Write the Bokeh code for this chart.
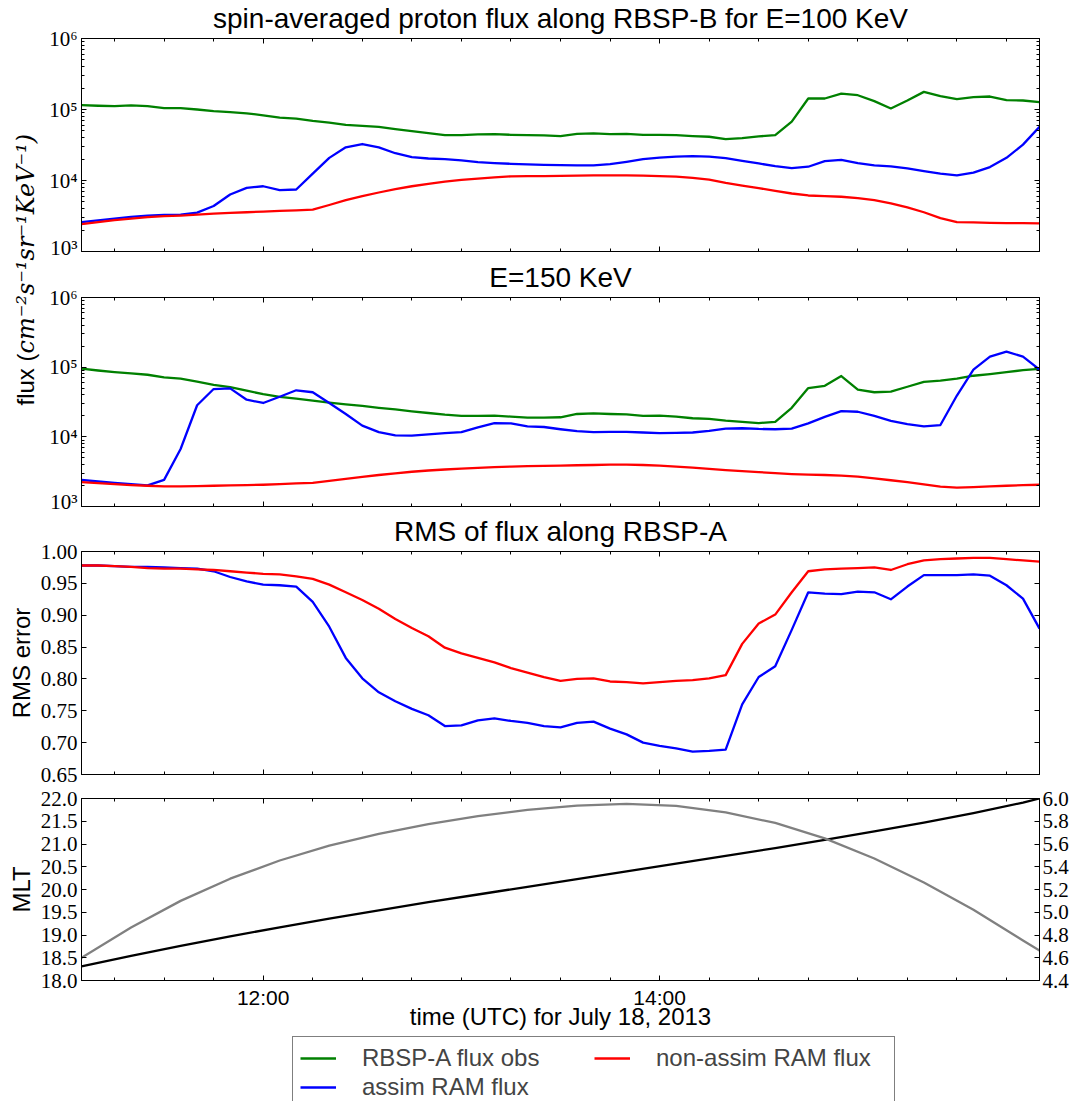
import numpy as np
import pandas as pd
from bokeh.plotting import figure
from bokeh.models import (Range1d, LinearAxis, LogAxis, DatetimeAxis, FixedTicker,
                          DatetimeTickFormatter, PrintfTickFormatter, Label, Legend, Title,
                          LegendItem, ColumnDataSource, CustomLabelingPolicy)
from bokeh.layouts import column, row
from bokeh.embed import file_html
from bokeh.resources import INLINE

# ---------------------------------------------------------------- data
DAY = "2013-07-18"
# 5-minute cadence of the flux / RMS series
times = pd.date_range(f"{DAY} 11:05", f"{DAY} 15:55", freq="5min")
# orbit (MLT / L) samples
orbit_clock = ["11:05", "11:20", "11:35", "11:50", "12:05", "12:20", "12:35", "12:50",
               "13:05", "13:20", "13:35", "13:50", "14:05", "14:20", "14:35", "14:50",
               "15:05", "15:20", "15:35", "15:50", "15:55"]
orbit_times = pd.to_datetime([f"{DAY} {c}" for c in orbit_clock])

# log10 of flux (cm^-2 s^-1 sr^-1 keV^-1), E = 100 keV
obs100_log10 = [5.062, 5.053, 5.048, 5.057, 5.048, 5.020, 5.020, 5.000, 4.978, 4.964,
                4.946, 4.918, 4.885, 4.872, 4.839, 4.816, 4.783, 4.769, 4.755, 4.723,
                4.695, 4.667, 4.639, 4.639, 4.649, 4.653, 4.644, 4.639, 4.635, 4.625,
                4.658, 4.663, 4.653, 4.658, 4.644, 4.644, 4.639, 4.625, 4.616, 4.584,
                4.597, 4.621, 4.639, 4.830, 5.155, 5.155, 5.224, 5.201, 5.118, 5.015,
                5.127, 5.248, 5.187, 5.145, 5.173, 5.183, 5.132, 5.127, 5.104]
assim100_log10 = [3.413, 3.437, 3.464, 3.488, 3.506, 3.515, 3.520, 3.548, 3.641, 3.803,
                  3.896, 3.919, 3.864, 3.873, 4.096, 4.319, 4.467, 4.514, 4.467, 4.384,
                  4.328, 4.310, 4.300, 4.282, 4.259, 4.245, 4.235, 4.226, 4.221, 4.217,
                  4.212, 4.212, 4.231, 4.263, 4.300, 4.323, 4.337, 4.342, 4.337, 4.314,
                  4.277, 4.240, 4.203, 4.175, 4.194, 4.272, 4.291, 4.245, 4.212, 4.198,
                  4.170, 4.133, 4.096, 4.073, 4.110, 4.189, 4.319, 4.505, 4.755]
nonassim100_log10 = [3.385, 3.413, 3.441, 3.464, 3.483, 3.497, 3.506, 3.520, 3.534, 3.543,
                     3.553, 3.562, 3.571, 3.580, 3.590, 3.655, 3.724, 3.780, 3.831, 3.878,
                     3.919, 3.952, 3.984, 4.008, 4.026, 4.045, 4.059, 4.063, 4.063, 4.066,
                     4.068, 4.073, 4.073, 4.073, 4.068, 4.063, 4.054, 4.036, 4.013, 3.966,
                     3.929, 3.892, 3.855, 3.817, 3.789, 3.780, 3.771, 3.752, 3.724, 3.678,
                     3.622, 3.553, 3.469, 3.413, 3.409, 3.404, 3.399, 3.399, 3.395]

# log10 of flux, E = 150 keV
obs150_log10 = [4.980, 4.952, 4.929, 4.910, 4.891, 4.854, 4.835, 4.793, 4.747, 4.714,
                4.663, 4.612, 4.575, 4.547, 4.519, 4.491, 4.467, 4.444, 4.416, 4.393,
                4.365, 4.342, 4.318, 4.300, 4.300, 4.304, 4.290, 4.276, 4.276, 4.281,
                4.328, 4.337, 4.328, 4.323, 4.300, 4.304, 4.290, 4.267, 4.258, 4.234,
                4.216, 4.197, 4.216, 4.416, 4.700, 4.733, 4.873, 4.677, 4.640, 4.649,
                4.719, 4.789, 4.807, 4.835, 4.877, 4.901, 4.929, 4.957, 4.975]
assim150_log10 = [3.382, 3.359, 3.340, 3.321, 3.303, 3.382, 3.825, 4.453, 4.686, 4.696,
                  4.533, 4.486, 4.575, 4.668, 4.640, 4.486, 4.328, 4.160, 4.067, 4.020,
                  4.016, 4.034, 4.053, 4.067, 4.137, 4.197, 4.193, 4.151, 4.141, 4.109,
                  4.081, 4.067, 4.071, 4.071, 4.062, 4.053, 4.057, 4.062, 4.085, 4.118,
                  4.123, 4.113, 4.109, 4.118, 4.193, 4.286, 4.370, 4.360, 4.300, 4.230,
                  4.183, 4.151, 4.169, 4.593, 4.966, 5.152, 5.222, 5.152, 4.966]
nonassim150_log10 = [3.349, 3.335, 3.321, 3.307, 3.298, 3.289, 3.289, 3.293, 3.298, 3.303,
                     3.307, 3.312, 3.321, 3.331, 3.340, 3.368, 3.396, 3.424, 3.452, 3.475,
                     3.499, 3.517, 3.531, 3.545, 3.554, 3.564, 3.573, 3.580, 3.584, 3.587,
                     3.592, 3.596, 3.601, 3.601, 3.596, 3.587, 3.573, 3.559, 3.540, 3.522,
                     3.508, 3.494, 3.480, 3.466, 3.457, 3.452, 3.443, 3.429, 3.405, 3.377,
                     3.349, 3.317, 3.284, 3.270, 3.279, 3.289, 3.298, 3.307, 3.312]

# RMS error along RBSP-A
rms_nonassim = [0.978, 0.978, 0.977, 0.976, 0.974, 0.973, 0.973, 0.972, 0.971, 0.969,
                0.967, 0.965, 0.964, 0.961, 0.957, 0.948, 0.936, 0.924, 0.910, 0.894,
                0.880, 0.867, 0.849, 0.840, 0.833, 0.826, 0.817, 0.810, 0.803, 0.797,
                0.800, 0.801, 0.796, 0.795, 0.793, 0.795, 0.797, 0.798, 0.801, 0.806,
                0.855, 0.887, 0.901, 0.936, 0.969, 0.972, 0.973, 0.974, 0.975, 0.971,
                0.980, 0.986, 0.988, 0.989, 0.990, 0.990, 0.988, 0.986, 0.984]
rms_assim = [0.978, 0.978, 0.977, 0.976, 0.976, 0.975, 0.974, 0.973, 0.969, 0.960,
             0.953, 0.948, 0.947, 0.945, 0.921, 0.882, 0.833, 0.801, 0.779, 0.765,
             0.753, 0.743, 0.726, 0.727, 0.735, 0.738, 0.734, 0.731, 0.726, 0.724,
             0.731, 0.733, 0.722, 0.713, 0.700, 0.695, 0.691, 0.686, 0.687, 0.689,
             0.760, 0.803, 0.820, 0.877, 0.936, 0.934, 0.933, 0.937, 0.936, 0.925,
             0.945, 0.963, 0.963, 0.963, 0.964, 0.962, 0.947, 0.926, 0.879]

# orbit: MLT (left axis) and L (right axis)
mlt = [18.31, 18.54, 18.76, 18.97, 19.17, 19.36, 19.54, 19.72, 19.89, 20.06, 20.23,
       20.40, 20.57, 20.74, 20.91, 21.09, 21.28, 21.47, 21.68, 21.91, 22.00]
lshell = [4.600, 4.865, 5.100, 5.295, 5.455, 5.585, 5.690, 5.775, 5.845, 5.900, 5.938,
          5.952, 5.935, 5.878, 5.785, 5.650, 5.472, 5.262, 5.022, 4.752, 4.663]

# ticks and labels
x_major_clock = ["12:00", "14:00"]
flux_ticks = [1000, 10000, 100000, 1000000]
flux_tick_labels = ["10³", "10⁴", "10⁵", "10⁶"]
rms_ticks = [0.65, 0.70, 0.75, 0.80, 0.85, 0.90, 0.95, 1.00]
mlt_ticks = [18.0, 18.5, 19.0, 19.5, 20.0, 20.5, 21.0, 21.5, 22.0]
l_ticks = [4.4, 4.6, 4.8, 5.0, 5.2, 5.4, 5.6, 5.8, 6.0]

series_labels = ["RBSP-A flux obs", "assim RAM flux", "non-assim RAM flux"]
GREEN, BLUE, RED, GRAY, BLACK = "#008000", "#0000ff", "#ff0000", "#808080", "#000000"

# ---------------------------------------------------------------- helpers
SERIF, SANS = "Liberation Serif", "Liberation Sans"
TICK_PX, LABEL_PX, TITLE_PX = "21px", "24px", "28px"
LW = 2.3
W = 1080            # page content width
LAB_W = 42          # width of the shared flux-label strip
B_LEFT, B_RIGHT = 81, 41


def ms(ts):
    return float((pd.Timestamp(ts) - pd.Timestamp("1970-01-01")) / pd.Timedelta(milliseconds=1))


x_start, x_end = times[0], times[-1]
x_major = [ms(f"{DAY} {c}") for c in x_major_clock]
x_minor = [ms(t) for t in pd.date_range(f"{DAY} 11:15", f"{DAY} 15:45", freq="15min")]
flux_minor = [m * t for t in flux_ticks[:-1] for m in range(2, 10)]


def xticker():
    return FixedTicker(ticks=x_major, minor_ticks=x_minor)


def style(ax, labels=True, font=SERIF, size=TICK_PX, standoff=4):
    ax.axis_line_color = "black"
    ax.axis_line_width = 1
    ax.major_tick_line_color = "black"
    ax.minor_tick_line_color = "black"
    ax.major_tick_in = 5
    ax.major_tick_out = 0
    ax.minor_tick_in = 3
    ax.minor_tick_out = 0
    ax.axis_label_text_color = "black"
    if labels:
        ax.major_label_text_font = font
        ax.major_label_text_font_size = size
        ax.major_label_text_color = "black"
        ax.major_label_standoff = standoff
    else:
        # ticks only: no label is drawn
        ax.major_label_text_font_size = "1px"
        ax.major_label_standoff = 0
        ax.axis_label_standoff = 0
        ax.major_label_policy = CustomLabelingPolicy(code="return new Set()")


def base_fig(width, height, left, top, bottom, y_type, y_range, title=None):
    p = figure(width=width, height=height, x_axis_type="datetime", y_axis_type=y_type,
               x_range=Range1d(x_start, x_end), y_range=y_range, title=None,
               toolbar_location=None, output_backend="svg",
               min_border_left=left, min_border_right=B_RIGHT,
               min_border_top=top, min_border_bottom=bottom)
    p.xgrid.visible = False
    p.ygrid.visible = False
    p.outline_line_color = "black"
    p.background_fill_color = "white"
    p.border_fill_color = "white"
    bottom_ax = p.below[0]
    bottom_ax.ticker = xticker()
    bottom_ax.formatter = DatetimeTickFormatter(hours="%H:%M", hourmin="%H:%M", minutes="%H:%M",
                                                minsec="%H:%M", days="%H:%M")
    left_ax = p.left[0]
    top_ax = DatetimeAxis(ticker=xticker())
    style(top_ax, labels=False)
    p.add_layout(top_ax, "above")
    if title is not None:
        p.add_layout(Title(text=title, align="center", text_font=SANS, text_font_size=TITLE_PX,
                           text_font_style="normal", text_color="black", standoff=0, offset=0),
                     "above")
    return p, bottom_ax, left_ax


def axis_title(ax, text, standoff):
    ax.axis_label = text
    ax.axis_label_text_font = SANS
    ax.axis_label_text_font_size = LABEL_PX
    ax.axis_label_text_font_style = "normal"
    ax.axis_label_text_color = "black"
    ax.axis_label_standoff = standoff


def flux_panel(height, top, bottom, obs, assim, nonassim, title):
    p, bx, ya = base_fig(W - LAB_W, height, B_LEFT - LAB_W, top, bottom, "log",
                         Range1d(1e3, 1e6), title)
    style(bx, labels=False)
    ya.ticker = FixedTicker(ticks=flux_ticks, minor_ticks=flux_minor)
    ya.major_label_overrides = dict(zip(flux_ticks, flux_tick_labels))
    style(ya, labels=True, standoff=4)
    ra = LogAxis(ticker=FixedTicker(ticks=flux_ticks, minor_ticks=flux_minor))
    style(ra, labels=False)
    p.add_layout(ra, "right")
    src = ColumnDataSource(dict(t=times, obs=10 ** np.array(obs), assim=10 ** np.array(assim),
                                non=10 ** np.array(nonassim)))
    p.line("t", "obs", source=src, color=GREEN, line_width=LW, line_join="round")
    p.line("t", "assim", source=src, color=BLUE, line_width=LW, line_join="round")
    p.line("t", "non", source=src, color=RED, line_width=LW, line_join="round")
    return p


# ---------------------------------------------------------------- panels 1 & 2
P1_H, P2_H = 259, 254
p1 = flux_panel(P1_H, 34, 8, obs100_log10, assim100_log10, nonassim100_log10,
                "spin-averaged proton flux along RBSP-B for E=100 KeV")
p2 = flux_panel(P2_H, 33, 7, obs150_log10, assim150_log10, nonassim150_log10,
                "E=150 KeV")

# shared y label for the two flux panels
labfig = figure(width=LAB_W, height=P1_H + P2_H, x_range=Range1d(0, 1), y_range=Range1d(0, 1),
                toolbar_location=None, output_backend="svg",
                min_border_left=0, min_border_right=0, min_border_top=0, min_border_bottom=0,
                x_axis_location=None, y_axis_location=None, outline_line_color=None)
labfig.grid.visible = False
labfig.add_layout(Label(x=25, y=160, x_units="screen", y_units="screen", text="flux (",
                        angle=90, angle_units="deg", text_align="right", text_baseline="middle",
                        text_font=SANS, text_font_size=LABEL_PX, text_color="black"))
labfig.add_layout(Label(x=25, y=160, x_units="screen", y_units="screen",
                        text="cm⁻²s⁻¹sr⁻¹KeV⁻¹)",
                        angle=90, angle_units="deg", text_align="left", text_baseline="middle",
                        text_font="DejaVu Serif", text_font_style="italic",
                        text_font_size="24px", text_color="black"))

# ---------------------------------------------------------------- panel 3
p3, bx3, ya3 = base_fig(W, 273, B_LEFT, 33, 12, "linear", Range1d(0.65, 1.0),
                        "RMS of flux along RBSP-A")
style(bx3, labels=False)
ya3.ticker = FixedTicker(ticks=rms_ticks, minor_ticks=[])
ya3.formatter = PrintfTickFormatter(format="%.2f")
style(ya3, labels=True, standoff=4)
axis_title(ya3, "RMS error", 3)
ra3 = LinearAxis(ticker=FixedTicker(ticks=rms_ticks, minor_ticks=[]))
style(ra3, labels=False)
p3.add_layout(ra3, "right")
src3 = ColumnDataSource(dict(t=times, assim=rms_assim, non=rms_nonassim))
p3.line("t", "assim", source=src3, color=BLUE, line_width=LW, line_join="round")
p3.line("t", "non", source=src3, color=RED, line_width=LW, line_join="round")

# ---------------------------------------------------------------- panel 4
p4, bx4, ya4 = base_fig(W, 246, B_LEFT, 12, 46, "linear", Range1d(18.0, 22.0))
style(bx4, labels=True, font=SANS, size=TICK_PX, standoff=5)
axis_title(bx4, "time (UTC) for July 18, 2013", -9)
ya4.ticker = FixedTicker(ticks=mlt_ticks, minor_ticks=[])
ya4.formatter = PrintfTickFormatter(format="%.1f")
style(ya4, labels=True, standoff=4)
axis_title(ya4, "MLT", 3)
p4.extra_y_ranges = {"L": Range1d(4.4, 6.0)}
ra4 = LinearAxis(y_range_name="L", ticker=FixedTicker(ticks=l_ticks, minor_ticks=[]),
                 formatter=PrintfTickFormatter(format="%.1f"))
style(ra4, labels=True, standoff=3)
p4.add_layout(ra4, "right")
src4 = ColumnDataSource(dict(t=orbit_times, mlt=mlt, L=lshell))
p4.line("t", "mlt", source=src4, color=BLACK, line_width=LW, line_join="round")
p4.line("t", "L", source=src4, color=GRAY, line_width=LW, y_range_name="L", line_join="round")

# ---------------------------------------------------------------- legend
legfig = figure(width=W, height=69, x_range=Range1d(0, 1), y_range=Range1d(0, 1),
                toolbar_location=None, output_backend="svg",
                min_border_left=B_LEFT, min_border_right=B_RIGHT,
                min_border_top=0, min_border_bottom=0,
                x_axis_location=None, y_axis_location=None, outline_line_color=None)
legfig.grid.visible = False
r_obs = legfig.line(x=[0.0], y=[-5.0], color=GREEN, line_width=LW)
r_as = legfig.line(x=[0.0], y=[-5.0], color=BLUE, line_width=LW)
r_non = legfig.line(x=[0.0], y=[-5.0], color=RED, line_width=LW)
legend = Legend(items=[LegendItem(label=series_labels[0], renderers=[r_obs]),
                       LegendItem(label=series_labels[1], renderers=[r_as]),
                       LegendItem(label=series_labels[2], renderers=[r_non])],
                location=(211, -8), ncols=2, orientation="vertical",
                glyph_width=36, glyph_height=20, label_standoff=26, label_width=231,
                padding=7, spacing=1, margin=0,
                label_text_font=SANS, label_text_font_size="24px",
                border_line_color="black", border_line_width=1,
                background_fill_color="white", background_fill_alpha=1.0)
legfig.add_layout(legend)

layout = column(row(labfig, column(p1, p2)), p3, p4, legfig)

with open("out.html", "w") as f:
    f.write(file_html(layout, INLINE))
